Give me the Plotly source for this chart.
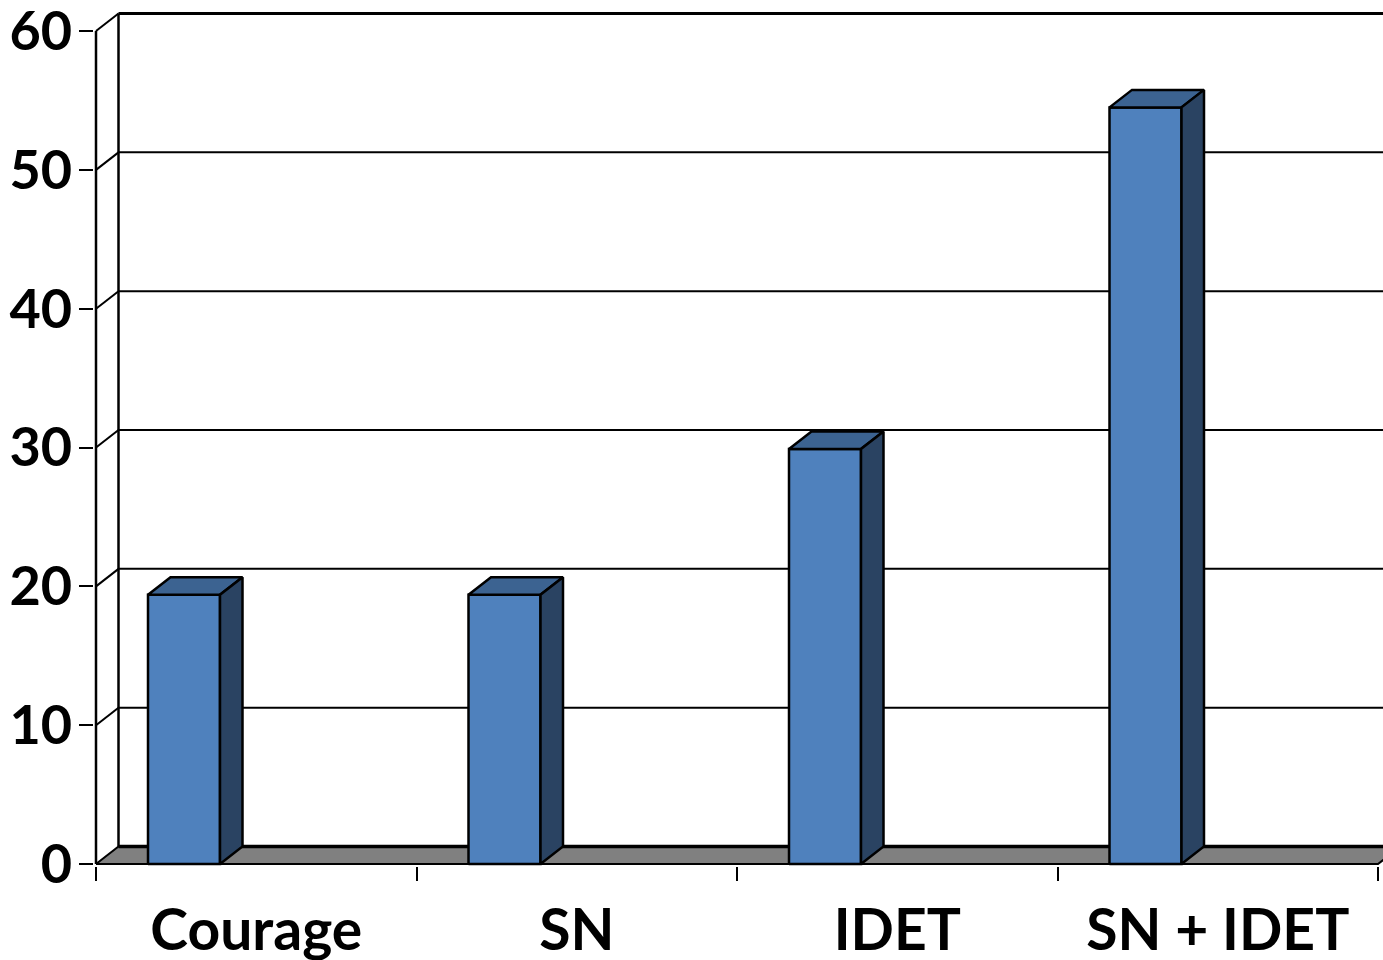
import plotly.graph_objects as go

# Data
categories = ["Courage", "SN", "IDET", "SN + IDET"]
values = [19.4, 19.4, 29.9, 54.5]
y_ticks = [0, 10, 20, 30, 40, 50, 60]

# Geometry of the pseudo-3D view (axis units)
PX_PER_CAT = 320.5          # pixels per category slot
PX_PER_UNIT = 13.883        # pixels per y unit
DX = 22.5 / PX_PER_CAT      # depth offset along x
DY = 17.5 / PX_PER_UNIT     # depth offset along y
BAR_OFFSET = 52 / PX_PER_CAT
BAR_WIDTH = 72 / PX_PER_CAT
N = len(categories)
Y_MAX = 60

W, H = 1383, 960
L, B = 94, 94
x_range = [-(96 - L) / PX_PER_CAT, (W - 96) / PX_PER_CAT]
y_range = [-(H - B - 864) / PX_PER_UNIT, 864 / PX_PER_UNIT]

FRONT = "#4F81BD"
SIDE = "#2A4362"
TOP = "#3C6391"
FLOOR = "#808080"

fig = go.Figure()


def poly(xs, ys, fill, width=2.5):
    fig.add_trace(go.Scatter(
        x=list(xs) + [xs[0]], y=list(ys) + [ys[0]], mode="lines",
        fill="toself", fillcolor=fill,
        line=dict(color="black", width=width),
        hoverinfo="skip", showlegend=False))


def line(xs, ys, width=2):
    fig.add_trace(go.Scatter(
        x=xs, y=ys, mode="lines", line=dict(color="black", width=width),
        hoverinfo="skip", showlegend=False))


# back wall: vertical edge, top edge and gridlines
line([DX, DX], [DY, Y_MAX + DY], 2.5)
for v in y_ticks[1:]:
    w = 3 if v == Y_MAX else 2
    line([DX, x_range[1] + 1], [v + DY, v + DY], w)
    # side wall connectors from the front axis to the back wall
    line([0, DX], [v, v + DY], 2)

# floor
poly([0, DX, N + DX, N], [0, DY, DY, 0], FLOOR, 2)
line([DX, N + DX], [DY, DY], 3.5)

# front value axis
line([0, 0], [0, Y_MAX], 2.5)

# bars: front, top and side faces
for i, v in enumerate(values):
    x0 = i + BAR_OFFSET
    x1 = x0 + BAR_WIDTH
    poly([x0, x1, x1, x0], [0, 0, v, v], FRONT)
    poly([x0, x1, x1 + DX, x0 + DX], [v, v, v + DY, v + DY], TOP)
    poly([x1, x1 + DX, x1 + DX, x1], [0, DY, v + DY, v], SIDE)

x_font = dict(family="Lato", size=57, color="black", weight="bold")
y_font = dict(family="Lato", size=54, color="black", weight="bold")

fig.update_layout(
    width=W, height=H,
    margin=dict(l=L, r=0, t=0, b=B),
    plot_bgcolor="white", paper_bgcolor="white",
    showlegend=False,
    xaxis=dict(
        range=x_range, showgrid=False, zeroline=False, showline=False,
        automargin=False,
        tickmode="array",
        tickvals=[i + 0.5 for i in range(N)], ticktext=categories,
        ticks="", tickfont=x_font, ticklabelstandoff=26,
        ticklabeloverflow="allow",
        minor=dict(tickvals=list(range(N + 1)), ticks="outside",
                   ticklen=14, tickwidth=2, tickcolor="black"),
        fixedrange=True,
    ),
    yaxis=dict(
        range=y_range, showgrid=False, zeroline=False, showline=False,
        automargin=False,
        tickmode="array", tickvals=y_ticks,
        ticks="outside", ticklen=14, tickwidth=2, tickcolor="black",
        tickfont=y_font, ticklabelstandoff=-4,
        ticklabeloverflow="allow",
        fixedrange=True,
    ),
)

fig.write_html("out.html")
